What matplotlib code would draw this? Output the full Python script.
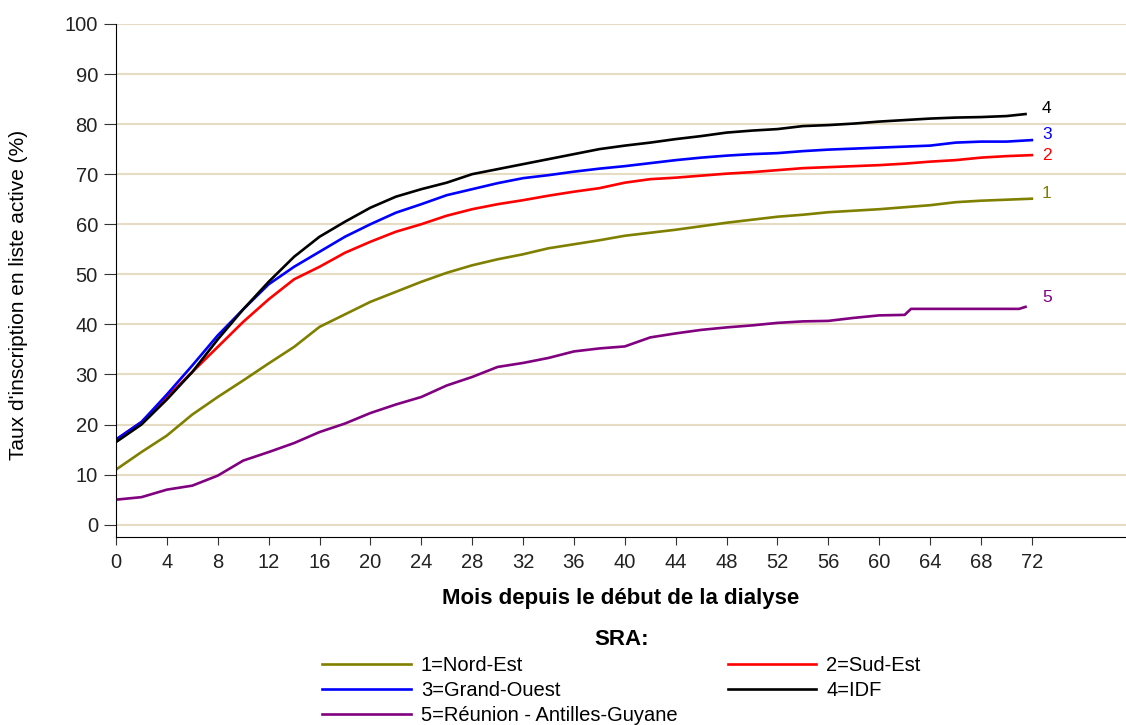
import numpy as np
import matplotlib
matplotlib.use("Agg")
import matplotlib.pyplot as plt

plt.rcParams['font.family'] = ['Liberation Sans', 'DejaVu Sans']

# months since start of dialysis
months = [0, 2, 4, 6, 8, 10, 12, 14, 16, 18, 20, 22, 24, 26, 28, 30, 32, 34, 36,
          38, 40, 42, 44, 46, 48, 50, 52, 54, 56, 58, 60, 62, 64, 66, 68, 70, 72]

# cumulative rate (%) per SRA
nord_est = [11, 14.5, 17.8, 22, 25.5, 28.8, 32.2, 35.5, 39.5, 42, 44.5, 46.5, 48.5,
            50.3, 51.8, 53, 54, 55.2, 56, 56.8, 57.7, 58.3, 58.9, 59.6, 60.3, 60.9,
            61.5, 61.9, 62.4, 62.7, 63, 63.4, 63.8, 64.4, 64.7, 64.9, 65.1]
sud_est = [17, 20.5, 25.5, 30.5, 35.5, 40.5, 45, 49, 51.5, 54.3, 56.5, 58.5, 60,
           61.7, 63, 64, 64.8, 65.7, 66.5, 67.2, 68.3, 69, 69.3, 69.7, 70.1, 70.4,
           70.8, 71.2, 71.4, 71.6, 71.8, 72.1, 72.5, 72.8, 73.3, 73.6, 73.8]
grand_ouest = [17, 20.5, 26, 31.8, 37.8, 43, 48, 51.5, 54.5, 57.5, 60, 62.3, 64,
               65.8, 67, 68.2, 69.2, 69.8, 70.5, 71.1, 71.6, 72.2, 72.8, 73.3, 73.7,
               74, 74.2, 74.6, 74.9, 75.1, 75.3, 75.5, 75.7, 76.3, 76.5, 76.5, 76.8]

months_idf = [0, 2, 4, 6, 8, 10, 12, 14, 16, 18, 20, 22, 24, 26, 28, 30, 32, 34, 36,
              38, 40, 42, 44, 46, 48, 50, 52, 54, 56, 58, 60, 62, 64, 66, 68, 70, 71.5]
idf = [16.5, 20, 25, 30.5, 37, 43, 48.5, 53.5, 57.5, 60.5, 63.3, 65.5, 67, 68.3, 70,
       71, 72, 73, 74, 75, 75.7, 76.3, 77, 77.6, 78.3, 78.7, 79, 79.6, 79.8, 80.1,
       80.5, 80.8, 81.1, 81.3, 81.4, 81.6, 82]

months_reu = [0, 2, 4, 6, 8, 10, 12, 14, 16, 18, 20, 22, 24, 26, 28, 30, 32, 34, 36,
              38, 40, 42, 44, 46, 48, 50, 52, 54, 56, 58, 60, 62, 62.5, 64, 66, 68,
              70, 71, 71.5]
reunion = [5, 5.5, 7, 7.8, 9.8, 12.8, 14.5, 16.3, 18.5, 20.2, 22.3, 24, 25.5, 27.8,
           29.5, 31.5, 32.3, 33.3, 34.6, 35.2, 35.6, 37.4, 38.2, 38.9, 39.4, 39.8,
           40.3, 40.6, 40.7, 41.3, 41.8, 41.9, 43.1, 43.1, 43.1, 43.1, 43.1, 43.1, 43.5]

olive = '#808000'
purple = '#800080'

fig = plt.figure(figsize=(11.26, 7.25), dpi=100)
ax = fig.add_axes([0.103, 0.259, 0.897, 0.708])

# y gridlines
for v in range(0, 101, 10):
    ax.axhline(v, color='#e6dcc4', lw=1.5, zorder=0)

l1, = ax.plot(months, nord_est, color=olive, lw=1.9, label='1=Nord-Est')
l2, = ax.plot(months, sud_est, color='red', lw=1.9, label='2=Sud-Est')
l3, = ax.plot(months, grand_ouest, color='blue', lw=1.9, label='3=Grand-Ouest')
l4, = ax.plot(months_idf, idf, color='black', lw=1.9, label='4=IDF')
l5, = ax.plot(months_reu, reunion, color=purple, lw=1.9,
              label='5=Réunion - Antilles-Guyane')

# end labels
for txt, y, c in [('4', 83.2, 'black'), ('3', 78, 'blue'), ('2', 73.8, 'red'),
                  ('1', 66.2, olive), ('5', 45.4, purple)]:
    ax.text(72.8, y, txt, color=c, fontsize=12.5, va='center', ha='left')

ax.set_xlim(0, 79.4)
ax.set_ylim(-2.5, 100)
ax.set_xticks(range(0, 73, 4))
ax.set_yticks(range(0, 101, 10))
ax.spines['top'].set_visible(False)
ax.spines['right'].set_visible(False)
ax.tick_params(axis='both', labelsize=14.5, color='#333333', labelcolor='#222222')
ax.tick_params(axis='y', length=9, pad=4)
ax.tick_params(axis='x', length=6, pad=5)

ax.set_ylabel("Taux d'inscription en liste active (%)", fontsize=15)
ax.yaxis.set_label_coords(-0.087, 0.472)
ax.set_xlabel('Mois depuis le début de la dialyse', fontsize=16,
              fontweight='bold', labelpad=12)

leg = fig.legend([l1, l3, l5, l2, l4],
                 [l1.get_label(), l3.get_label(), l5.get_label(),
                  l2.get_label(), l4.get_label()],
                 ncol=2, frameon=False, title='SRA:', fontsize=14.5,
                 title_fontproperties={'weight': 'bold', 'size': 16},
                 loc='upper left', bbox_to_anchor=(0.286, 0.132),
                 handlelength=4.4, labelspacing=0.3, columnspacing=2.5,
                 handletextpad=0.5, borderpad=0, borderaxespad=0)

fig.savefig('out.png', dpi=100)
